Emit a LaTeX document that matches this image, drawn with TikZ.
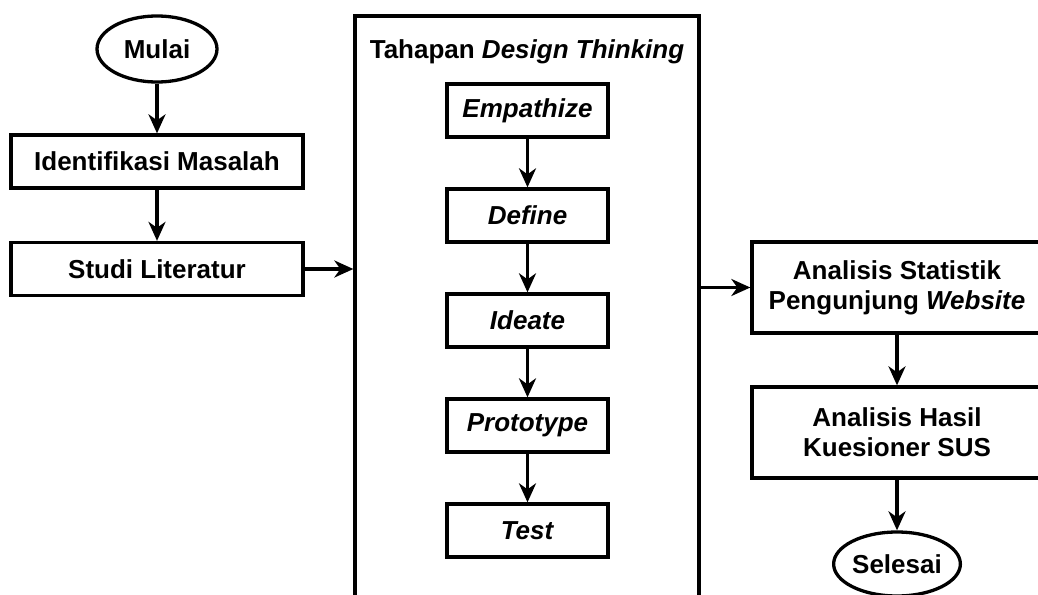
\documentclass[tikz,border=0pt]{standalone}
\usepackage{fontspec}
\setmainfont{Liberation Sans}
\usetikzlibrary{shapes.geometric,arrows.meta}
\begin{document}
\begin{tikzpicture}[x=1pt,y=-1pt,
  every node/.style={font=\fontsize{26}{30}\selectfont\bfseries, align=center, inner sep=0pt},
  lbox/.style={draw, line width=3.3pt, rectangle, minimum width=292pt, minimum height=53pt},
  ibox/.style={draw, line width=3.3pt, rectangle, minimum width=161pt, minimum height=53pt},
  rbox/.style={draw, line width=3.3pt, rectangle, minimum width=290pt, minimum height=91pt},
  term/.style={draw, line width=3.3pt, ellipse, minimum width=120pt, minimum height=66pt},
  frame/.style={draw, line width=3.3pt, rectangle, minimum width=344pt, minimum height=604pt},
  arr/.style={line width=3.3pt, -{Stealth[length=19pt,width=17pt,inset=6pt]}}]
\useasboundingbox (0,0) rectangle (1038,594);
\clip (0,0) rectangle (1038,594);
% left column
\node[term] (mulai) at (157,49) {Mulai};
\node[lbox] (ident) at (157,161.5) {Identifikasi Masalah};
\node[lbox] (studi) at (157,269) {Studi Literatur};
% design thinking frame
\node[frame] (dt) at (527,318) {};
\node (dttitle) at (527,52) {Tahapan \textit{Design Thinking}};
\node[ibox] (emp) at (527.5,110.5) {\textit{Empathize}};
\node[ibox] (def) at (527.5,215.5) {\textit{Define}};
\node[ibox] (ide) at (527.5,320.5) {\textit{Ideate}};
\node[ibox] (pro) at (527.5,425.5) {\textit{Prototype}};
\node[ibox] (tes) at (527.5,530.5) {\textit{Test}};
% right column
\node[rbox] (stat) at (897,287.5) {Analisis Statistik\\Pengunjung \textit{Website}};
\node[rbox] (sus) at (897,432.5) {Analisis Hasil\\Kuesioner SUS};
\node[term, minimum width=121pt, minimum height=64pt] (selesai) at (897,564) {Selesai};
% connectors
\draw[arr] (mulai) -- (ident);
\draw[arr] (ident) -- (studi);
\draw[arr] (studi.east) -- (studi.east -| dt.west);
\draw[arr] (emp) -- (def);
\draw[arr] (def) -- (ide);
\draw[arr] (ide) -- (pro);
\draw[arr] (pro) -- (tes);
\draw[arr] (stat.west -| dt.east) -- (stat.west);
\draw[arr] (stat) -- (sus);
\draw[arr] (sus) -- (selesai);
\end{tikzpicture}
\end{document}
